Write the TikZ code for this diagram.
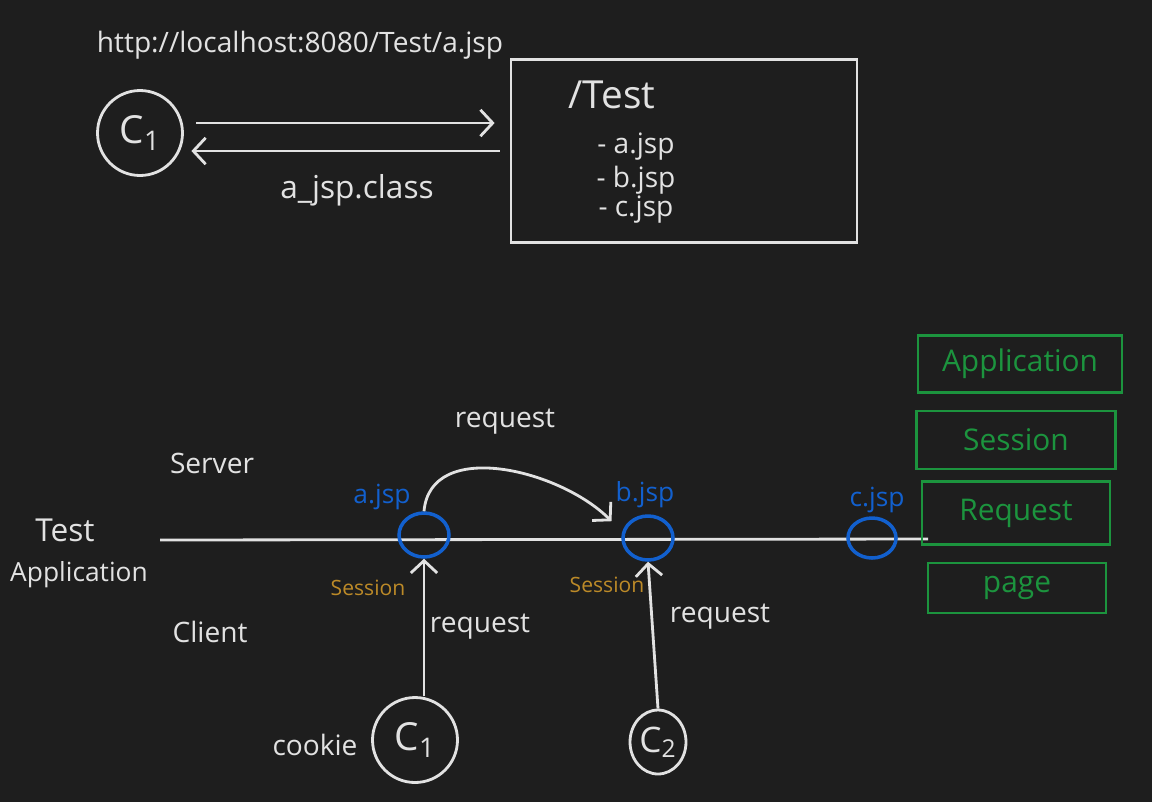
\documentclass[tikz,border=0pt]{standalone}
\usepackage{fontspec}
\setmainfont{Open Sans}
\usetikzlibrary{arrows.meta,shapes.geometric}
\definecolor{board}{RGB}{30,30,30}
\definecolor{chalk}{RGB}{226,226,226}
\definecolor{jsp}{RGB}{18,96,206}
\definecolor{sess}{RGB}{188,138,40}
\definecolor{scopegreen}{RGB}{28,148,62}

\begin{document}
\begin{tikzpicture}[x=0.02cm, y=-0.02cm, line width=1.6pt, draw=chalk,
    every node/.style={text=chalk, font=\fontsize{16}{19}\selectfont},
    client/.style={draw=chalk, circle, minimum size=1.7cm, inner sep=0pt,
                   font=\fontsize{22}{26}\selectfont}, % clientes C1, C2
    page/.style={draw=jsp, ellipse, line width=2pt, minimum width=1cm,
                 minimum height=0.88cm, inner sep=0pt}, % paginas jsp
    pagelabel/.style={text=jsp, font=\fontsize{15}{18}\selectfont},
    sesslabel/.style={text=sess, font=\fontsize{12}{14}\selectfont},
    scopebox/.style={draw=scopegreen, text=scopegreen, line width=1.6pt,
                     font=\fontsize{17}{20}\selectfont},
    arr/.style={-{Straight Barb[length=7pt,width=15pt]}},
  ]
  % fundo
  \fill[board] (0,0) rectangle (1152,802);

  % --- parte de cima: pedido e compilacao ---
  \node (url) at (300,45) {http://localhost:8080/Test/a.jsp};
  \node[client] (c1top) at (140,133) {C\textsubscript{1}};
  \node[draw=chalk, minimum width=6.92cm, minimum height=3.66cm] (srvbox)
    at (684,151) {};
  \node[font=\fontsize{22}{26}\selectfont] (test) at (612,95) {/Test};
  \node (fa) at (636,147) {- a.jsp};
  \node (fb) at (636,180) {- b.jsp};
  \node (fc) at (636,210) {- c.jsp};
  \node[font=\fontsize{18}{22}\selectfont] (cls) at (357,190) {a\_jsp.class};

  \draw[arr] ([shift={(0.25cm,0.2cm)}]c1top.east) coordinate (go)
    -- ([xshift=-0.3cm]go -| srvbox.west);
  \draw[arr] ([xshift=-0.2cm]srvbox.west)
    -- ([xshift=0.15cm]srvbox.west -| c1top.east);

  % --- parte de baixo: escopos ---
  \node[font=\fontsize{18}{22}\selectfont] (tst) at (65,530) {Test};
  \node[font=\fontsize{15}{18}\selectfont] (app) at (79,575) {Application};
  \node (srv) at (212,463) {Server};
  \node (cli) at (210,632) {Client};

  \coordinate (lineL) at (160,540);
  \coordinate (lineR) at (928,539);
  \draw (lineL) -- (lineR);

  \node[page] (ajsp) at (424,535) {};
  \node[page] (bjsp) at (648,538) {};
  \node[page, minimum width=0.96cm, minimum height=0.8cm] (cjsp) at (872,538) {};
  \node[pagelabel] (la) at (382,497) {a.jsp};
  \node[pagelabel] (lb) at (645,495) {b.jsp};
  \node[pagelabel] (lc) at (877,500) {c.jsp};

  \node[sesslabel] (sa) at (368,588) {Session};
  \node[sesslabel] (sb) at (607,585) {Session};

  \node[client] (c1) at (415,740) {C\textsubscript{1}};
  \node[client, ellipse, minimum width=1.12cm, minimum height=1.28cm,
        font=\fontsize{20}{24}\selectfont] (c2) at (658,742) {C\textsubscript{2}};
  \node (cookie) at (315,745) {cookie};

  % pedidos
  \draw[arr] (c1.north -| ajsp.south) -- (ajsp.south);
  \draw[arr] (c2.north) -- (bjsp.south);
  \draw[arr] (ajsp.north) to[out=85, in=135] ([xshift=-10]bjsp.north west);
  \node (r1) at (505,422) {request};
  \node (r2) at (480,627) {request};
  \node (r3) at (720,617) {request};

  % caixas verdes
  \node[scopebox, minimum width=4.08cm, minimum height=1.14cm] (sapp)
    at (1020,364) {Application};
  \node[scopebox, minimum width=3.98cm, minimum height=1.16cm] (sses)
    at (1016,440) {Session};
  \node[scopebox, minimum width=3.76cm, minimum height=1.26cm] (sreq)
    at (1016,513) {Request};
  \node[scopebox, minimum width=3.56cm, minimum height=1cm] (spag)
    at (1017,588) {page};
\end{tikzpicture}
\end{document}
